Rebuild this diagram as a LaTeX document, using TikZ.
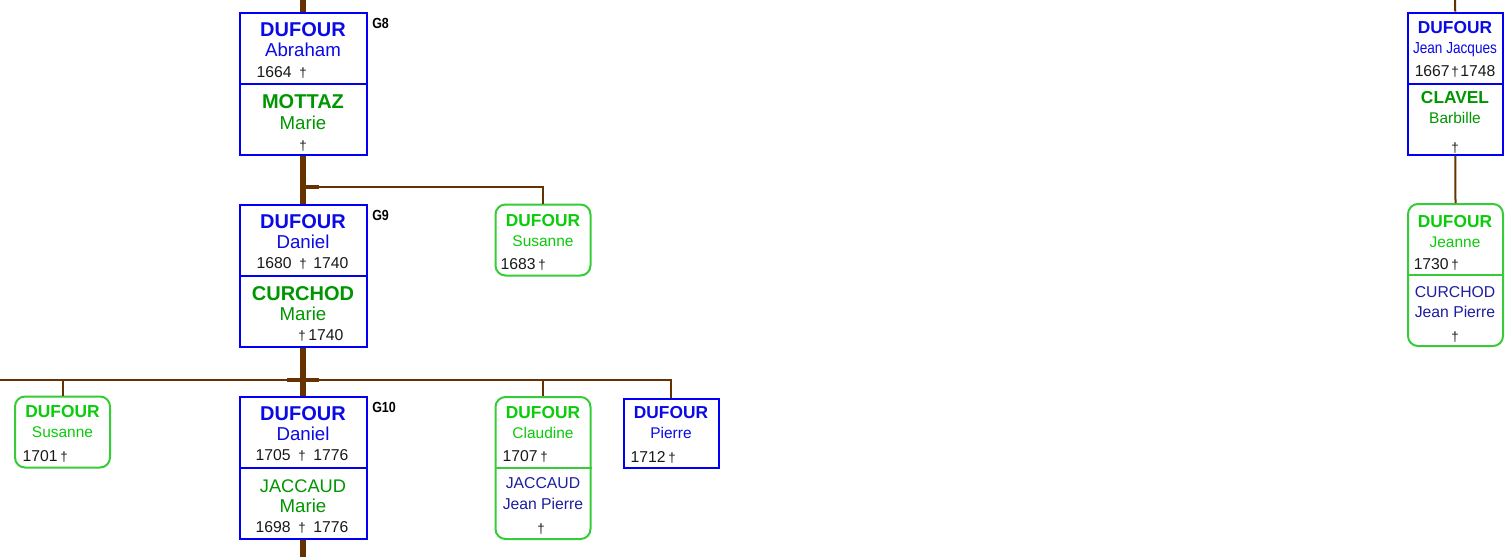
\documentclass[tikz,border=0pt]{standalone}
\usepackage{fontspec}
\setmainfont{Liberation Sans}
\newfontfamily\narrowfont[FakeStretch=0.85]{Liberation Sans}
\usetikzlibrary{positioning}

\definecolor{boxblue}{RGB}{0,0,250}
\definecolor{boxgreen}{RGB}{55,204,55}
\definecolor{famblue}{RGB}{10,10,230}
\definecolor{spblue}{RGB}{30,30,160}
\definecolor{spgreen}{RGB}{0,150,0}
\definecolor{girlgreen}{RGB}{10,204,10}
\definecolor{kinbrown}{RGB}{102,51,0}
\definecolor{datecol}{RGB}{25,25,25}

\tikzset{
  couple/.style={draw=boxblue, line width=1.5pt, fill=white, inner sep=0pt,
    minimum width=95.25pt, minimum height=106.5pt},
  smallcouple/.style={couple, minimum width=71.25pt},
  single/.style={couple, minimum width=71.25pt, minimum height=53.25pt},
  girl/.style={draw=boxgreen, rounded corners=7.5pt},
  divider/.style={line width=1.5pt},
  trunk/.style={draw=kinbrown, line width=4.5pt},
  kin/.style={draw=kinbrown, line width=1.5pt},
  tick/.style={draw=kinbrown, line width=3pt},
  txt/.style={anchor=base, inner sep=0pt},
  bigfam/.style={txt, font=\bfseries\fontsize{15}{15}\selectfont},
  bigname/.style={txt, font=\fontsize{14}{14}\selectfont},
  bigspouse/.style={txt, font=\fontsize{13.7}{14}\selectfont},
  fam/.style={txt, font=\bfseries\fontsize{13}{13}\selectfont},
  given/.style={txt, font=\fontsize{11.6}{12}\selectfont},
  spouse/.style={txt, font=\fontsize{11.8}{12}\selectfont},
  year/.style={txt, text=datecol, font=\fontsize{11.8}{12}\selectfont},
  dag/.style={txt, text=datecol, font=\fontsize{10}{10}\selectfont},
  gen/.style={txt, anchor=base west, font=\narrowfont\bfseries\fontsize{11}{11}\selectfont}
}

\begin{document}
\begin{tikzpicture}[x=0.75pt, y=-0.75pt]

  \useasboundingbox (0,0) rectangle (1506,557);

  % boxes
  \node[couple] (abraham) at (303,83.5) {};
  \node[couple] (daniel) at (303,275.5) {};
  \node[couple] (daniel2) at (303,467.5) {};
  \node[single, girl] (susanne) at (543,240) {};
  \node[single, girl] (susanne2) at (62.5,432) {};
  \node[smallcouple, girl] (claudine) at (543,468) {};
  \node[single, minimum height=51.75pt] (pierre) at (671,433) {};
  \node[smallcouple] (jacques) at (1455.25,83.6) {};
  \node[smallcouple, girl] (jeanne) at (1455.5,275) {};

  \foreach \b in {abraham,daniel,daniel2,jacques}
    \draw[divider, boxblue] (\b.west) -- (\b.east);
  \foreach \b in {claudine,jeanne}
    \draw[divider, boxgreen] (\b.west) -- (\b.east);

  % lines
  \coordinate (top) at (303,0);
  \coordinate (bottom) at (303,557);
  \coordinate (fork9) at (303,187);
  \coordinate (fork10) at (303,380);
  \coordinate (rowend) at (0,380);
  \coordinate (topr) at (1455,0);

  \draw[trunk] (top) -- (abraham.north);
  \draw[trunk] (abraham.south) -- (daniel.north);
  \draw[trunk] (daniel.south) -- (daniel2.north);
  \draw[trunk] (daniel2.south) -- (bottom);

  \draw[kin] (fork9) -| (susanne.north);
  \draw[tick] (fork9) -- ++(16,0);

  \draw[kin] (rowend) -- (fork10) -| (pierre.north);
  \draw[kin] (fork10) -| (susanne2.north);
  \draw[kin] (fork10) -| (claudine.north);
  \draw[tick] (fork10) ++(-16,0) -- ++(32,0);

  \draw[kin] (topr) -- (jacques.north);
  \draw[kin] (jacques.south) -- (jeanne.north);

  % generations
  \node[gen] (g8) at (372,28) {G8};
  \node[gen] (g9) at (372,220) {G9};
  \node[gen] (g10) at (372,412) {G10};

  % G8
  \node[bigfam, text=famblue] (abfam) at (303,36) {DUFOUR};
  \node[bigname, text=famblue] (abname) at (303,56) {Abraham};
  \node[dag] (abdag) at (303,77) {†};
  \node[year, anchor=base east] (abborn) at (292,77) {1664};
  \node[bigfam, text=spgreen] (mofam) at (303,108) {MOTTAZ};
  \node[bigname, text=spgreen] (moname) at (303,129) {Marie};
  \node[dag] (modag) at (303,150) {†};

  % G9
  \node[bigfam, text=famblue] (dafam) at (303,228) {DUFOUR};
  \node[bigname, text=famblue] (daname) at (303,248) {Daniel};
  \node[dag] (dadag) at (303,268) {†};
  \node[year, anchor=base east] (daborn) at (292,268) {1680};
  \node[year, anchor=base west] (dadied) at (313,268) {1740};
  \node[bigfam, text=spgreen] (cufam) at (303,300) {CURCHOD};
  \node[bigname, text=spgreen] (cuname) at (303,320) {Marie};
  \node[dag] (cudag) at (302,340) {†};
  \node[year, anchor=base west] (cudied) at (308,340) {1740};

  \node[fam, text=girlgreen] (sufam) at (543,226) {DUFOUR};
  \node[given, text=girlgreen] (suname) at (543,246) {Susanne};
  \node[dag] (sudag) at (542,269) {†};
  \node[year, anchor=base east] (suborn) at (536,269) {1683};

  % G10
  \node[fam, text=girlgreen] (su2fam) at (62.5,417) {DUFOUR};
  \node[given, text=girlgreen] (su2name) at (62.5,437) {Susanne};
  \node[dag] (su2dag) at (64,461) {†};
  \node[year, anchor=base east] (su2born) at (58,461) {1701};

  \node[bigfam, text=famblue] (da2fam) at (303,420) {DUFOUR};
  \node[bigname, text=famblue] (da2name) at (303,440) {Daniel};
  \node[dag] (da2dag) at (302,460) {†};
  \node[year, anchor=base east] (da2born) at (291,460) {1705};
  \node[year, anchor=base west] (da2died) at (313,460) {1776};
  \node[bigspouse, text=spgreen] (jafam) at (303,492) {JACCAUD};
  \node[bigname, text=spgreen] (janame) at (303,512) {Marie};
  \node[dag] (jadag) at (302,532) {†};
  \node[year, anchor=base east] (jaborn) at (291,532) {1698};
  \node[year, anchor=base west] (jadied) at (313,532) {1776};

  \node[fam, text=girlgreen] (clfam) at (543,418) {DUFOUR};
  \node[given, text=girlgreen] (clname) at (543,438) {Claudine};
  \node[dag] (cldag) at (544,461) {†};
  \node[year, anchor=base east] (clborn) at (538,461) {1707};
  \node[spouse, text=spblue] (cljfam) at (543,488) {JACCAUD};
  \node[spouse, text=spblue] (cljname) at (543,509) {Jean Pierre};
  \node[dag] (cljdag) at (541,533) {†};

  \node[fam, text=famblue] (pifam) at (671,418) {DUFOUR};
  \node[given, text=famblue] (piname) at (671,438) {Pierre};
  \node[dag] (pidag) at (672,462) {†};
  \node[year, anchor=base east] (piborn) at (666,462) {1712};

  % right branch
  \node[fam, text=famblue] (jjfam) at (1455,33) {DUFOUR};
  \node[txt, text=famblue, font=\narrowfont\fontsize{12}{12}\selectfont] (jjname) at (1455,53) {Jean Jacques};
  \node[dag] (jjdag) at (1455,76) {†};
  \node[year, anchor=base east] (jjborn) at (1450,76) {1667};
  \node[year, anchor=base west] (jjdied) at (1460,76) {1748};
  \node[fam, text=spgreen] (clafam) at (1455,103) {CLAVEL};
  \node[given, text=spgreen] (claname) at (1455,123) {Barbille};
  \node[dag] (cladag) at (1455,152) {†};

  \node[fam, text=girlgreen] (jefam) at (1455,227) {DUFOUR};
  \node[given, text=girlgreen] (jename) at (1455,247) {Jeanne};
  \node[dag] (jedag) at (1455,269) {†};
  \node[year, anchor=base east] (jeborn) at (1449,269) {1730};
  \node[spouse, text=spblue] (jpfam) at (1455,297) {CURCHOD};
  \node[spouse, text=spblue] (jpname) at (1455,317) {Jean Pierre};
  \node[dag] (jpdag) at (1455,341) {†};

\end{tikzpicture}
\end{document}
